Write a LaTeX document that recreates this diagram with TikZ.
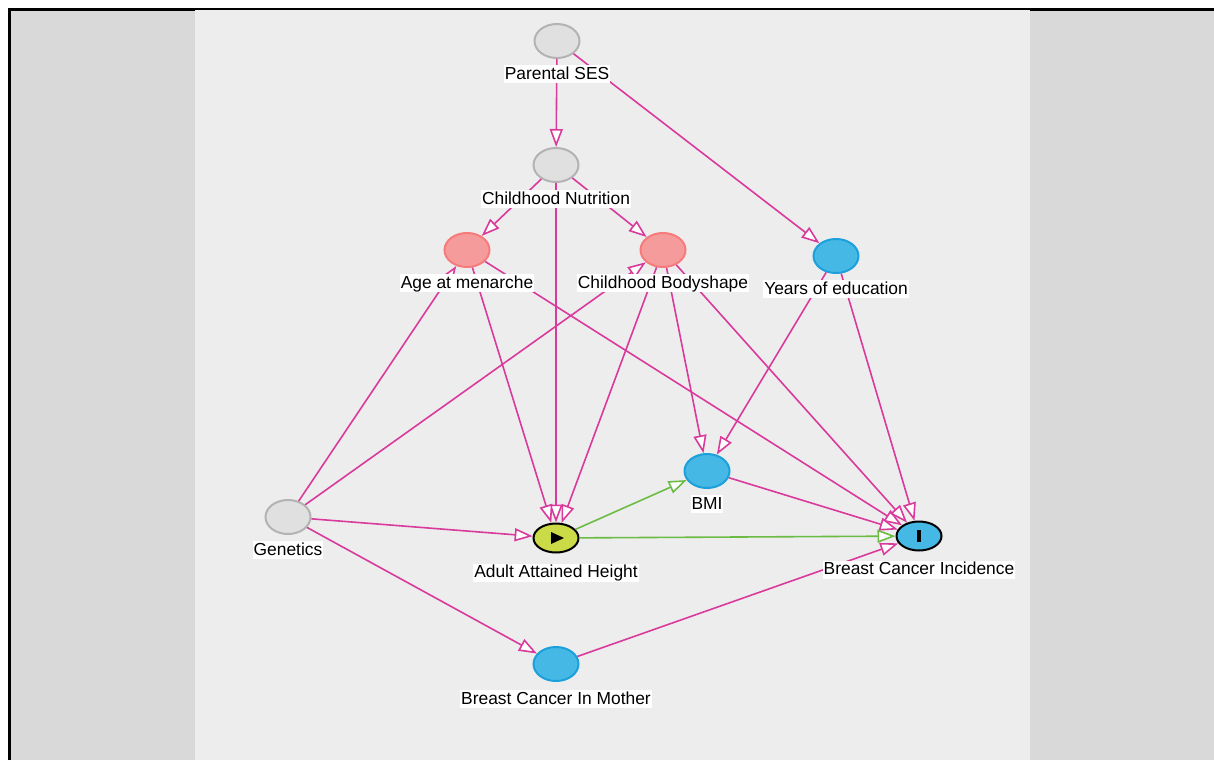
\documentclass[tikz,border=0pt]{standalone}
\usepackage{fontspec}
\setmainfont{Liberation Sans}
\usepackage{xcolor}
\usetikzlibrary{positioning,arrows.meta,shapes.geometric}

\definecolor{edgepink}{HTML}{D93A9C}
\definecolor{edgegreen}{HTML}{6CBB45}
\definecolor{ancfill}{HTML}{E0E0E0}
\definecolor{ancline}{HTML}{B3B3B3}
\definecolor{redfill}{HTML}{F69B9B}
\definecolor{redline}{HTML}{F77B7B}
\definecolor{bluefill}{HTML}{46B8E5}
\definecolor{blueline}{HTML}{1CA0DC}
\definecolor{expfill}{HTML}{CBDA47}
\definecolor{outerbg}{HTML}{D9D9D9}
\definecolor{panelbg}{HTML}{EDEDED}

\tikzset{
  var/.style={ellipse, minimum width=22.5pt, minimum height=17pt, inner sep=0pt, line width=1pt},
  anc/.style={var, draw=ancline, fill=ancfill},
  conf/.style={var, draw=redline, fill=redfill},
  outanc/.style={var, draw=blueline, fill=bluefill},
  expo/.style={var, minimum height=14.5pt, draw=black, fill=expfill},
  outc/.style={var, minimum height=14.5pt, draw=black, fill=bluefill},
  lbl/.style={fill=white, inner xsep=0.5pt, inner ysep=0.5pt, text height=6.5pt, text depth=1.5pt, font=\fontsize{8.7pt}{10pt}\selectfont},
  bias/.style={draw=edgepink, line width=0.8pt, -{Triangle[open, length=9pt, width=6.5pt, fill=white]}},
  causal/.style={draw=edgegreen, line width=0.8pt, -{Triangle[open, length=9pt, width=6.5pt, fill=white]}}
}

\begin{document}
\begin{tikzpicture}[x=0.5pt, y=-0.5pt]
    \useasboundingbox (0,0) rectangle (1214,760);
    % background and panel
    \fill[white] (0,0) rectangle (1214,760);
    \fill[outerbg] (10,10) rectangle (1214,760);
    \draw[line width=1.5pt] (9,760) -- (9,9) -- (1214,9);
    \fill[panelbg] (195,9.5) rectangle (1030,760);

    % variables
    \node[anc] (ps) at (557,41) {};
    \node[anc] (cn) at (556,165) {};
    \node[conf] (am) at (467,250) {};
    \node[conf] (cb) at (663,250) {};
    \node[outanc] (ye) at (836,256) {};
    \node[anc] (ge) at (288,517) {};
    \node[expo] (ah) at (556,538) {};
    \node[outanc] (bmi) at (707,471) {};
    \node[outc] (bci) at (919,536) {};
    \node[outanc] (bcm) at (556,664) {};

    % edges
    \draw[bias] (ps) -- (cn);
    \draw[bias] (ps) -- (ye);
    \draw[bias] (cn) -- (am);
    \draw[bias] (cn) -- (cb);
    \draw[bias] (cn) -- (ah);
    \draw[bias] (am) -- (ah);
    \draw[bias] (am) -- (bci);
    \draw[bias] (cb) -- (ah);
    \draw[bias] (cb) -- (bmi);
    \draw[bias] (cb) -- (bci);
    \draw[bias] (ye) -- (bmi);
    \draw[bias] (ye) -- (bci);
    \draw[bias] (ge) -- (am);
    \draw[bias] (ge) -- (cb);
    \draw[bias] (ge) -- (ah);
    \draw[bias] (ge) -- (bcm);
    \draw[bias] (bmi) -- (bci);
    \draw[bias] (bcm) -- (bci);
    \draw[causal] (ah) -- (bmi);
    \draw[causal] (ah) -- (bci);

    % markers
    \fill[black] (551,532) -- (551,544) -- (564,538) -- cycle;
    \fill[black] (917,530) rectangle (921,542);

    % labels
    \node[lbl, below=3pt of ps] (psl) {Parental SES};
    \node[lbl, below=3.5pt of cn] (cnl) {Childhood Nutrition};
    \node[lbl, below=3pt of am] (aml) {Age at menarche};
    \node[lbl, below=3pt of cb] (cbl) {Childhood Bodyshape};
    \node[lbl, below=3pt of ye] (yel) {Years of education};
    \node[lbl, below=3pt of ge] (gel) {Genetics};
    \node[lbl, below=5pt of ah] (ahl) {Adult Attained Height};
    \node[lbl, below=3pt of bmi] (bmil) {BMI};
    \node[lbl, below=4.5pt of bci] (bcil) {Breast Cancer Incidence};
    \node[lbl, below=4pt of bcm] (bcml) {Breast Cancer In Mother};
\end{tikzpicture}
\end{document}
